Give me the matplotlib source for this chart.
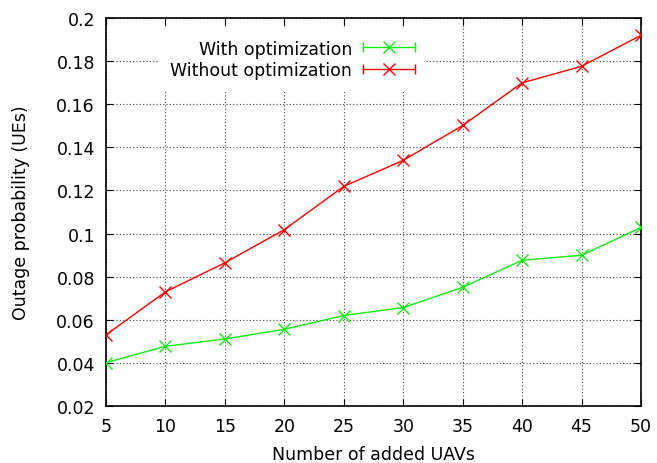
import matplotlib
matplotlib.use("Agg")
import matplotlib.pyplot as plt
from matplotlib.lines import Line2D
from matplotlib.legend_handler import HandlerLine2D

n_uavs = [5, 10, 15, 20, 25, 30, 35, 40, 45, 50]
with_opt = [0.0400, 0.0476, 0.0510, 0.0555, 0.0619, 0.0656, 0.0750, 0.0876, 0.0899, 0.1028]
without_opt = [0.0529, 0.0729, 0.0864, 0.1018, 0.1219, 0.1340, 0.1502, 0.1700, 0.1777, 0.1921]
x_ticks = [5, 10, 15, 20, 25, 30, 35, 40, 45, 50]
y_ticks = [0.02, 0.04, 0.06, 0.08, 0.1, 0.12, 0.14, 0.16, 0.18, 0.2]
y_tick_labels = ["0.02", "0.04", "0.06", "0.08", "0.1", "0.12", "0.14", "0.16", "0.18", "0.2"]

green = "#11ee11"
red = "#ff0000"
fs = 12.5

plt.rcParams["font.family"] = ["DejaVu Sans"]

fig = plt.figure(figsize=(6.57, 4.64), dpi=100)
ax = fig.add_axes([106 / 657, 1 - 406.7 / 464, 535 / 657, 387.4 / 464])

ax.plot(n_uavs, with_opt, color=green, lw=1, marker="x", ms=8.5, mew=1, zorder=3)
ax.plot(n_uavs, without_opt, color=red, lw=1, marker="x", ms=8.5, mew=1, zorder=3)

ax.set_xlim(5, 50)
ax.set_ylim(0.02, 0.2)
ax.set_xticks(x_ticks)
ax.set_yticks(y_ticks)
ax.set_yticklabels(y_tick_labels)
ax.tick_params(direction="in", length=5, width=0.8, top=True, right=True,
               labelsize=fs, pad=8)
ax.grid(True, color="#444444", linestyle=(0, (1, 2)), lw=0.8)
for s in ax.spines.values():
    s.set_linewidth(1.2)

ax.set_xlabel("Number of added UAVs", fontsize=fs, labelpad=7)
ax.set_ylabel("Outage probability (UEs)", fontsize=fs, labelpad=19)

# gnuplot-like legend entries: line with end caps and a cross in the middle
handles = []
hmap = {}
for c in (green, red):
    cap = Line2D([], [], color=c, lw=1, marker="|", ms=7, mew=1)
    cross = Line2D([], [], color=c, lw=0, marker="x", ms=8.5, mew=1)
    hmap[cap] = HandlerLine2D(numpoints=2, marker_pad=0)
    hmap[cross] = HandlerLine2D(numpoints=1)
    handles.append((cap, cross))

leg = ax.legend(handles, ["With optimization", "Without optimization"],
                handler_map=hmap, loc="upper right",
                bbox_to_anchor=((425 - 106) / 535, 0.972),
                markerfirst=False, alignment="right", fontsize=fs,
                frameon=True, fancybox=False, framealpha=1,
                facecolor="white", edgecolor="white",
                handlelength=3.0, handletextpad=0.6, labelspacing=0.22,
                borderpad=0.6, borderaxespad=0)

fig.savefig("out.png", dpi=100)
